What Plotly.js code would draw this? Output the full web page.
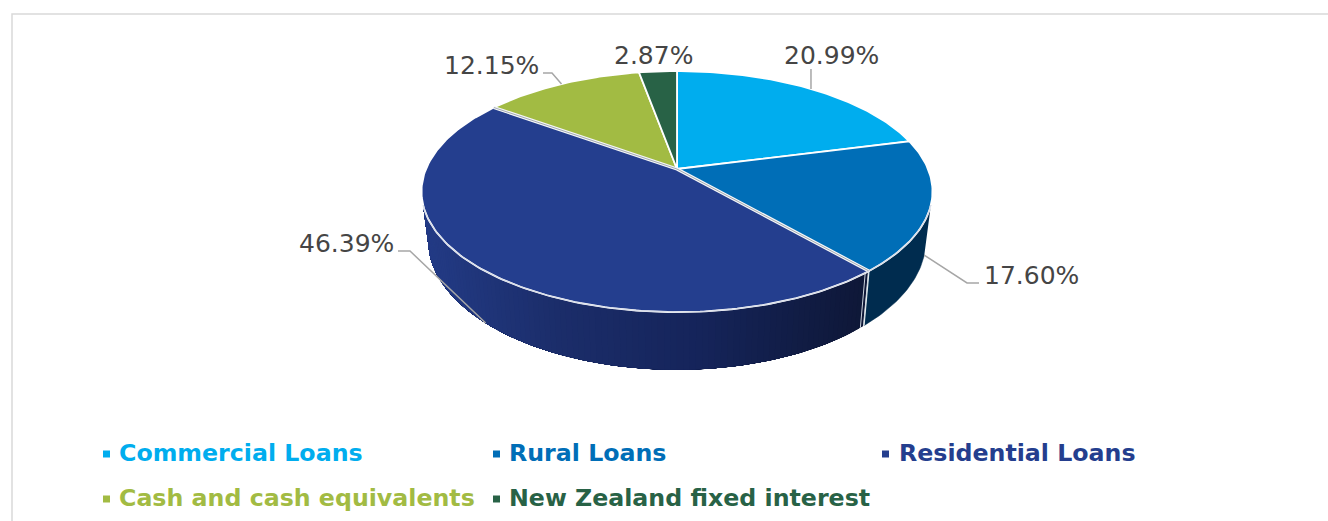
<!DOCTYPE html>
<html>
<head>
<meta charset="utf-8">
<script src="https://cdn.plot.ly/plotly-3.0.1.min.js"></script>
<style>html,body{margin:0;padding:0;background:#fff;overflow:hidden}</style>
</head>
<body>
<div id="chart" style="width:1328px;height:521px"></div>
<script>
// ---- data ----
var categories = ['Commercial Loans', 'Rural Loans', 'Residential Loans', 'Cash and cash equivalents', 'New Zealand fixed interest'];
var shares = [20.99, 17.60, 46.39, 12.15, 2.87];
var sliceLabels = ['20.99%', '17.60%', '46.39%', '12.15%', '2.87%'];
var sliceColors = ['#00ADEE', '#006EB7', '#243E8E', '#A2BB43', '#286246'];

// ---- projection of the tilted disc (pixel axes) ----
var topDisc = {cx: 677, cy: 169, a: 251, b: 116.3, k: 0.187};
var botDisc = {cx: 677, cy: 216, a: 244.5, b: 125, k: 0.187};
function project(d, deg) {
  var t = deg * Math.PI / 180, den = 1 + d.k * Math.cos(t);
  return [d.cx + d.a * Math.sin(t) / den, d.cy - d.b * Math.cos(t) / den];
}
function arc(d, from, to, step) {
  var pts = [], n = Math.max(1, Math.ceil(Math.abs(to - from) / (step || 1)));
  for (var i = 0; i <= n; i++) pts.push(project(d, from + (to - from) * i / n));
  return pts;
}
function mix(c1, c2, f) {
  var p = function (c, i) { return parseInt(c.substr(1 + 2 * i, 2), 16); }, o = [];
  for (var i = 0; i < 3; i++) o.push(Math.round(p(c1, i) + (p(c2, i) - p(c1, i)) * f));
  return 'rgb(' + o.join(',') + ')';
}
var gradX = [425, 560, 700, 865];
var gradC = ['#233B86', '#1B2D6A', '#15245A', '#0E1736'];
function wallColor(x) {
  for (var i = 0; i < gradX.length - 1; i++)
    if (x <= gradX[i + 1]) return mix(gradC[i], gradC[i + 1], Math.max(0, (x - gradX[i]) / (gradX[i + 1] - gradX[i])));
  return gradC[gradC.length - 1];
}
function poly(pts, color, lineColor, lineW, name) {
  return {
    type: 'scatter', mode: 'lines', x: pts.map(function (p) { return p[0]; }), y: pts.map(function (p) { return p[1]; }),
    fill: 'toself', fillcolor: color,
    line: {color: lineColor || color, width: lineW === undefined ? 1 : lineW},
    hoverinfo: name ? 'text' : 'skip', text: name || '', showlegend: false
  };
}
function stroke(pts, color, w) {
  var t = poly(pts, 'rgba(0,0,0,0)', color, w);
  t.fill = 'none';
  return t;
}

// slice boundaries, clockwise from twelve o'clock
var bounds = [0];
shares.forEach(function (s, i) { bounds.push(bounds[i] + s * 3.6); });
var total = bounds[bounds.length - 1];
bounds = bounds.map(function (b) { return b * 360 / total; });
function mid(i) { return (bounds[i] + bounds[i + 1]) / 2; }

var silhouetteRight = 107, silhouetteLeft = 253;
var traces = [];
// rural wall
var ruralWall = arc(topDisc, silhouetteRight, bounds[2]).concat(arc(botDisc, bounds[2], silhouetteRight));
traces.push(poly(ruralWall, '#002C4F', '#002C4F', 0.5));
// residential wall, shaded: each band paints over the rest of the wall so no seams show
var wallStart = bounds[2] + 0.3, wallStep = 1.2;
for (var th = wallStart; th < silhouetteLeft; th += wallStep) {
  var band = arc(topDisc, th, silhouetteLeft).concat(arc(botDisc, silhouetteLeft, th));
  var col = wallColor(project(botDisc, Math.min(th + wallStep / 2, silhouetteLeft))[0]);
  traces.push(poly(band, col, col, 0));
}
// gap between rural and residential walls
traces.push(stroke([project(topDisc, bounds[2]), project(botDisc, bounds[2])], '#E4ECF0', 1.2));
traces.push(stroke([project(topDisc, bounds[2] + 1.1), project(botDisc, bounds[2] + 1.1)], '#C9D2DC', 1));

// top faces
categories.forEach(function (name, i) {
  var pts = [[topDisc.cx, topDisc.cy]].concat(arc(topDisc, bounds[i], bounds[i + 1])).concat([[topDisc.cx, topDisc.cy]]);
  traces.push(poly(pts, sliceColors[i], '#FFFFFF', 1.8, name + ': ' + sliceLabels[i]));
});
// double seams either side of the residential slice
[2, 3].forEach(function (b) {
  var edge = [[topDisc.cx, topDisc.cy], project(topDisc, bounds[b])];
  traces.push(stroke(edge, '#F4F6F8', 3.2));
  traces.push(stroke(edge, '#8E959E', 0.8));
});
// pale rim on the front edge
traces.push(stroke(arc(topDisc, silhouetteRight, silhouetteLeft), '#D9DEE9', 1.3));

// leader lines, anchored at each slice's mid-angle
var leaderColor = '#A6A6A6';
var leaderA = project(topDisc, mid(0));
traces.push(stroke([leaderA, [leaderA[0], 69]], leaderColor, 1.5));
var leaderB = project(botDisc, mid(1));
traces.push(stroke([leaderB, [967, 283], [979, 283]], leaderColor, 1.5));
var leaderC = project(botDisc, mid(2));
traces.push(stroke([leaderC, [410, 251], [398, 251]], leaderColor, 1.5));
var leaderD = project(topDisc, mid(3));
traces.push(stroke([leaderD, [552, 73], [543, 73]], leaderColor, 1.5));

// legend swatches
var legendX = [103, 493, 882, 103, 493];
var legendY = [454, 454, 454, 499, 499];
var legendTextX = [117, 507, 897, 117, 507];
traces.push({
  type: 'scatter', mode: 'markers', x: legendX.map(function (x) { return x + 3.5; }), y: legendY,
  marker: {symbol: 'square', size: 7, color: sliceColors, line: {width: 0}}, hoverinfo: 'skip', showlegend: false
});

// text
var labelX = [831, 1031, 346, 491.5, 653.5];
var labelY = [55, 275, 243, 65, 55];
var annotations = [];
sliceLabels.forEach(function (t, i) {
  annotations.push({x: labelX[i], y: labelY[i], xref: 'x', yref: 'y', text: t, showarrow: false,
    xanchor: 'center', yanchor: 'middle', font: {family: 'DejaVu Sans', size: 25, color: '#454545'}});
});
categories.forEach(function (t, i) {
  annotations.push({x: legendTextX[i], y: legendY[i] - 1, xref: 'x', yref: 'y', text: '<b>' + t + '</b>', showarrow: false,
    xanchor: 'left', yanchor: 'middle', font: {family: 'DejaVu Sans', size: 23.7, color: sliceColors[i]}});
});

Plotly.newPlot('chart', traces, {
  width: 1328, height: 521, margin: {l: 0, r: 0, t: 0, b: 0},
  paper_bgcolor: '#FFFFFF', plot_bgcolor: '#FFFFFF', showlegend: false,
  xaxis: {range: [0, 1328], visible: false, fixedrange: true},
  yaxis: {range: [521, 0], visible: false, fixedrange: true},
  shapes: [{type: 'path', path: 'M 12 521 L 12 14 L 1329 14', xref: 'x', yref: 'y', line: {color: '#D9D9D9', width: 1.5}, layer: 'below'}],
  annotations: annotations
}, {displayModeBar: false, staticPlot: true});
</script>
</body>
</html>
